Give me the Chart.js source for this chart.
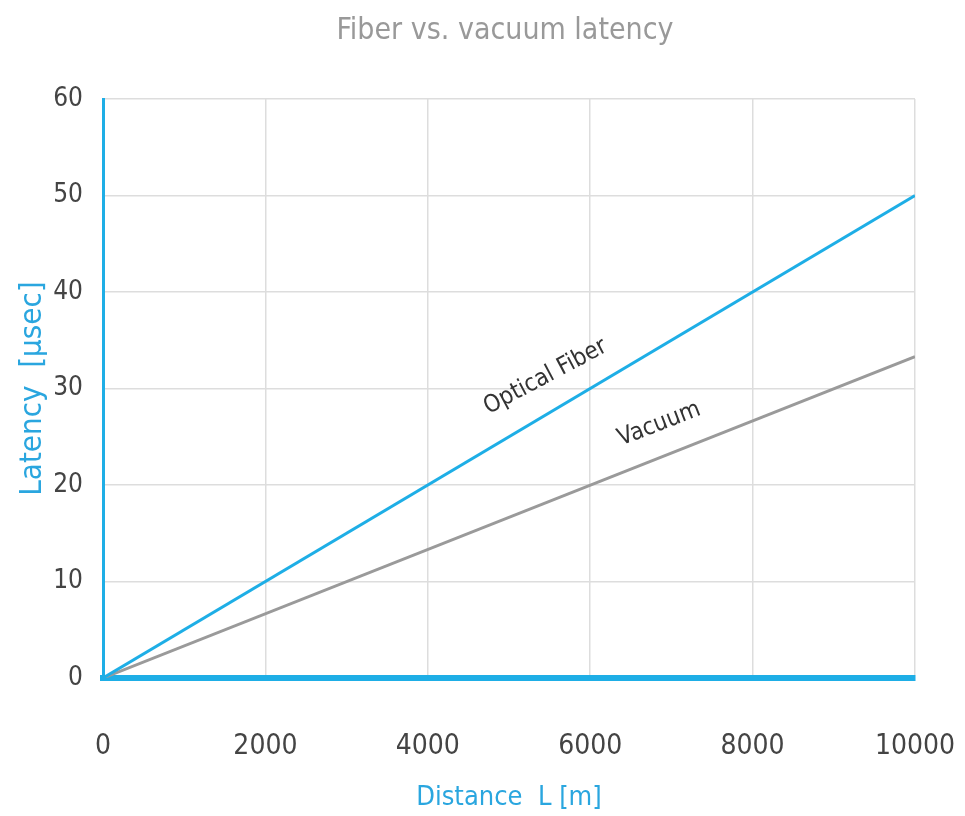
<!DOCTYPE html>
<html>
<head>
<meta charset="utf-8">
<script src="https://cdn.jsdelivr.net/npm/chart.js@4.4.0/dist/chart.umd.min.js"></script>
<style>
  html, body { margin: 0; padding: 0; background: #ffffff; }
  #wrap { width: 965px; height: 816px; }
</style>
</head>
<body>
<div id="wrap"><canvas id="latencyChart"></canvas></div>
<script>

// DATA

const distance = [0, 10000];

const fiberLatency = [0, 50];

const vacuumLatency = [0, 33.3];

const lineLabels = [
  { text: "Optical Fiber", x: 5450, y: 31.2, angle: -28 },
  { text: "Vacuum", x: 6850, y: 26.3, angle: -21 }
];

const chartTitle = "Fiber vs. vacuum latency";


const FONT = "'Liberation Sans Narrow', 'DejaVu Sans Condensed', 'Liberation Sans', sans-serif";
const BLUE = "#1eaee6";


// LABELS + TITLE PLUGIN

const lineLabelPlugin = {

  id: "lineLabels",

  afterDatasetsDraw(chart) {

    const ctx = chart.ctx;
    const xs = chart.scales.x;
    const ys = chart.scales.y;

    ctx.save();
    ctx.font = "24px " + FONT;
    ctx.fillStyle = "#333333";
    ctx.textAlign = "center";
    ctx.textBaseline = "middle";

    lineLabels.forEach(label => {
      ctx.save();
      ctx.translate(xs.getPixelForValue(label.x), ys.getPixelForValue(label.y));
      ctx.rotate(label.angle * Math.PI / 180);
      ctx.fillText(label.text, 0, 0);
      ctx.restore();
    });

    // title
    ctx.font = "30px " + FONT;
    ctx.fillStyle = "#999999";
    ctx.fillText(chartTitle, 505, 31);

    ctx.restore();
  }
};


// CHART

new Chart(document.getElementById("latencyChart"), {

  type: "line",

  data: {
    datasets: [
      {
        label: "Optical Fiber",
        data: distance.map((d, i) => ({ x: d, y: fiberLatency[i] })),
        borderColor: BLUE,
        borderWidth: 3,
        pointRadius: 0
      },
      {
        label: "Vacuum",
        data: distance.map((d, i) => ({ x: d, y: vacuumLatency[i] })),
        borderColor: "#9a9a9a",
        borderWidth: 3,
        pointRadius: 0
      }
    ]
  },

  options: {

    responsive: true,
    maintainAspectRatio: false,
    animation: false,

    layout: {
      padding: { top: 99, right: 50, bottom: 2, left: 14 }
    },

    plugins: {
      legend: { display: false },
      tooltip: { enabled: false },
      title: { display: false }
    },

    scales: {

      x: {
        type: "linear",
        min: 0,
        max: 10000,
        afterFit(scale) {
          scale.height = 136;
          scale.paddingRight = 0;
          scale.paddingLeft = 0;
        },
        ticks: {
          stepSize: 2000,
          color: "#444444",
          font: { family: FONT, size: 28 },
          padding: 52,
          callback: value => String(value)
        },
        grid: {
          color: "#dddddd",
          lineWidth: 1.5,
          drawTicks: false
        },
        border: {
          color: BLUE,
          width: 6
        },
        title: {
          display: true,
          text: "Distance  L [m]",
          color: "#2aa6df",
          font: { family: FONT, size: 27 },
          padding: { top: 0, bottom: 0 }
        }
      },

      y: {
        min: 0,
        max: 60,
        afterFit(scale) {
          scale.width = 89;
          scale.paddingTop = 0;
          scale.paddingBottom = 0;
        },
        ticks: {
          stepSize: 10,
          color: "#444444",
          font: { family: FONT, size: 26 },
          padding: 20
        },
        grid: {
          color: "#dddddd",
          lineWidth: 1.5,
          drawTicks: false
        },
        border: {
          color: BLUE,
          width: 3
        },
        title: {
          display: true,
          text: "Latency  [µsec]",
          color: "#2aa6df",
          font: { family: FONT, size: 31 },
          padding: { top: 0, bottom: 0 }
        }
      }

    }

  },

  plugins: [lineLabelPlugin]

});

</script>
</body>
</html>
